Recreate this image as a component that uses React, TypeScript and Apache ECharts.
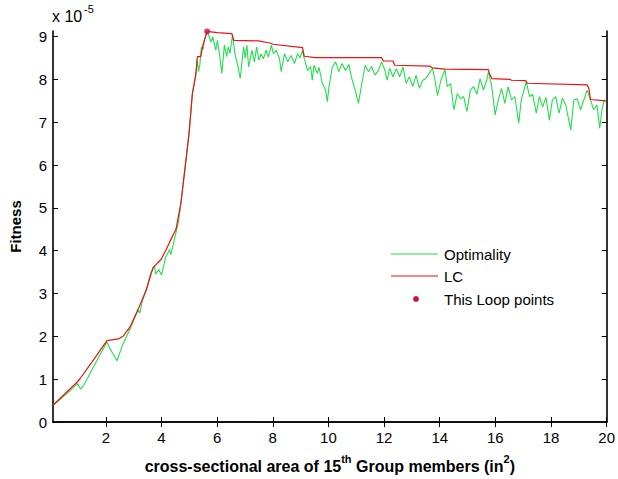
import React, { useEffect, useRef } from 'react';
import * as echarts from 'echarts';

const xTicks = [2, 4, 6, 8, 10, 12, 14, 16, 18, 20];
const yTicks = [0, 1, 2, 3, 4, 5, 6, 7, 8, 9];

const optX = [
  0.10, 0.40, 0.70, 0.98, 1.09, 1.20, 1.50, 1.80, 2.04, 2.20, 2.40, 2.60, 2.89, 3.16, 3.22, 3.30, 3.46, 3.60,
  3.75, 3.79, 3.90, 4.00, 4.15, 4.29, 4.34, 4.52, 4.62, 4.70, 4.85, 4.99, 5.11, 5.23, 5.29, 5.33, 5.38, 5.43,
  5.49, 5.55, 5.64, 5.72, 5.78, 5.84, 5.95, 6.01, 6.08, 6.17, 6.26, 6.34, 6.40, 6.46, 6.55, 6.64, 6.75, 6.83,
  6.95, 7.01, 7.07, 7.13, 7.25, 7.34, 7.42, 7.50, 7.58, 7.66, 7.76, 7.84, 7.95, 8.02, 8.12, 8.24, 8.30, 8.42,
  8.54, 8.66, 8.78, 8.89, 8.98, 9.07, 9.13, 9.25, 9.36, 9.42, 9.48, 9.60, 9.66, 9.78, 9.90, 9.96, 10.02, 10.14,
  10.26, 10.37, 10.49, 10.61, 10.73, 10.84, 10.96, 11.08, 11.20, 11.32, 11.44, 11.55, 11.67, 11.79, 11.91, 12.03,
  12.11, 12.20, 12.32, 12.44, 12.56, 12.68, 12.79, 12.91, 13.03, 13.15, 13.27, 13.39, 13.50, 13.62, 13.74, 13.83,
  13.92, 14.04, 14.19, 14.27, 14.39, 14.51, 14.63, 14.75, 14.86, 14.98, 15.10, 15.22, 15.34, 15.45, 15.57, 15.69,
  15.75, 15.87, 15.99, 16.10, 16.22, 16.34, 16.46, 16.58, 16.70, 16.84, 16.93, 17.11, 17.23, 17.34, 17.47, 17.58,
  17.70, 17.82, 17.94, 18.05, 18.17, 18.29, 18.41, 18.53, 18.71, 18.82, 18.94, 19.06, 19.18, 19.30, 19.42, 19.53,
  19.65, 19.75, 19.83, 19.91, 19.96,
];
const optY = [
  0.39, 0.55, 0.72, 0.90, 0.77, 0.85, 1.22, 1.58, 1.86, 1.65, 1.43, 1.80, 2.20, 2.62, 2.54, 2.80, 3.10, 3.45,
  3.64, 3.45, 3.56, 3.43, 3.85, 4.03, 3.91, 4.42, 4.70, 5.12, 5.95, 6.74, 7.67, 8.10, 8.45, 8.18, 8.35, 8.75,
  8.70, 8.95, 9.12, 8.99, 8.87, 8.99, 8.68, 8.91, 8.60, 8.14, 8.80, 8.53, 8.76, 8.60, 9.03, 8.60, 8.29, 8.02,
  8.76, 8.50, 8.80, 8.29, 8.68, 8.41, 8.76, 8.45, 8.60, 8.48, 8.68, 8.52, 8.80, 8.60, 8.68, 8.49, 8.18, 8.60,
  8.41, 8.56, 8.37, 8.60, 8.50, 8.68, 8.49, 8.21, 8.30, 7.98, 8.33, 8.14, 8.28, 7.91, 7.75, 7.48, 7.83, 8.29,
  8.41, 8.18, 8.37, 8.21, 8.35, 8.02, 7.75, 7.44, 7.91, 8.33, 8.18, 8.30, 8.10, 8.20, 8.41, 8.21,
  7.98, 8.26, 8.06, 8.25, 8.06, 8.29, 7.91, 8.06, 7.83, 8.10, 7.79, 7.98, 8.02, 8.14, 8.26, 7.98,
  7.62, 7.98, 8.23, 7.83, 7.90, 7.29, 7.67, 7.55, 7.60, 7.25, 7.75, 7.83, 7.65, 8.02, 7.75, 7.98,
  8.18, 7.83, 7.17, 7.50, 7.79, 7.44, 7.83, 7.52, 7.60, 6.98, 7.52, 7.94, 7.60, 7.65, 7.21, 7.60,
  7.36, 7.58, 7.05, 7.52, 7.60, 7.21, 7.56, 7.40, 6.82, 7.52, 7.55, 7.29, 7.52, 7.75, 7.52, 7.29,
  7.40, 6.86, 7.29, 7.52, 7.48,
];

const lcX = [
  0.10, 0.98, 1.07, 1.50, 2.04, 2.45, 2.63, 2.87, 3.16, 3.46, 3.69, 3.99, 4.17, 4.29, 4.52, 4.70, 4.99, 5.11,
  5.23, 5.29, 5.41, 5.49, 5.64, 6.00, 6.53, 6.60, 7.48, 7.89, 8.01, 9.07, 9.13, 9.54, 11.91, 11.97, 12.32, 12.38,
  13.62, 13.74, 14.19, 15.75, 15.78, 15.87, 16.52, 16.58, 17.09, 17.15, 19.30, 19.36, 19.42, 19.96,
];
const lcY = [
  0.39, 0.94, 1.01, 1.40, 1.90, 1.94, 2.01, 2.22, 2.63, 3.10, 3.60, 3.80, 4.03, 4.20, 4.50, 5.12, 6.74, 7.67,
  8.10, 8.53, 8.53, 8.80, 9.12, 9.09, 9.07, 8.91, 8.90, 8.85, 8.82, 8.74, 8.54, 8.51, 8.51, 8.43, 8.43, 8.33,
  8.31, 8.27, 8.24, 8.23, 8.15, 8.02, 8.00, 7.98, 7.97, 7.91, 7.87, 7.79, 7.53, 7.50,
];

const loopX = [5.64];
const loopY = [9.12];

const FONT = 'Liberation Sans, Arial, sans-serif';

export default function App() {
  const ref = useRef<HTMLDivElement>(null);
  useEffect(() => {
    const chart = echarts.init(ref.current!, null, { renderer: 'svg' });
    const zip = (xs: number[], ys: number[]) => xs.map((x, i) => [x, ys[i]]);
    const axisLine = { show: true, lineStyle: { color: '#000', width: 1.6 } };
    const tick = { show: true, inside: true, length: 5, lineStyle: { color: '#000', width: 1 } };
    const labelStyle = { color: '#000', fontSize: 15, fontFamily: FONT };
    chart.setOption({
      animation: false,
      backgroundColor: '#fff',
      grid: { left: 52, right: 5, top: 31, bottom: 55, containLabel: false },
      xAxis: [
        {
          type: 'value', position: 'bottom', min: 0.1, max: 20,
          axisLine, axisTick: { ...tick, customValues: xTicks },
          axisLabel: { ...labelStyle, margin: 8, customValues: xTicks },
          splitLine: { show: false },
          name: '{b|cross-sectional area of 15}{s|th}{b| Group members (in}{s|2}{b|)}',
          nameLocation: 'middle', nameGap: 31,
          nameTextStyle: {
            rich: {
              b: { fontSize: 16, fontWeight: 'bold', fontFamily: FONT, color: '#000', lineHeight: 21, verticalAlign: 'bottom' },
              s: { fontSize: 11, fontWeight: 'bold', fontFamily: FONT, color: '#000', lineHeight: 12, verticalAlign: 'top' },
            },
          },
        },
        {
          type: 'value', position: 'top', min: 0.1, max: 20,
          axisLine, axisTick: { ...tick, customValues: xTicks },
          axisLabel: { show: false }, splitLine: { show: false },
        },
      ],
      yAxis: [
        {
          type: 'value', position: 'left', min: 0, max: 9.13,
          axisLine, axisTick: { ...tick, customValues: yTicks },
          axisLabel: { ...labelStyle, margin: 6, customValues: yTicks },
          splitLine: { show: false },
          name: 'Fitness', nameLocation: 'middle', nameGap: 30, nameRotate: 90,
          nameTextStyle: { fontSize: 15, fontWeight: 'bold', fontFamily: FONT, color: '#000' },
        },
        {
          type: 'value', position: 'right', min: 0, max: 9.13,
          axisLine, axisTick: { ...tick, customValues: yTicks },
          axisLabel: { show: false }, splitLine: { show: false },
        },
      ],
      series: [
        {
          name: 'Optimality', type: 'line', data: zip(optX, optY), showSymbol: false, symbol: 'none',
          lineStyle: { color: '#22e04c', width: 1.1 }, z: 2,
        },
        {
          name: 'LC', type: 'line', data: zip(lcX, lcY), showSymbol: false, symbol: 'none',
          lineStyle: { color: '#ee1111', width: 1.2 }, z: 3,
        },
        {
          name: 'This Loop points', type: 'scatter', data: zip(loopX, loopY), symbol: 'circle', symbolSize: 6,
          itemStyle: { color: '#d0104a' }, clip: false, z: 4,
        },
      ],
      graphic: [
        { type: 'text', left: 52, top: 8, style: { text: 'x 10', fontSize: 16, fontFamily: FONT, fill: '#000' } },
        { type: 'text', left: 84, top: 3, style: { text: '-5', fontSize: 11, fontFamily: FONT, fill: '#000' } },
        { type: 'line', shape: { x1: 391, y1: 254, x2: 438, y2: 254 }, style: { stroke: '#22e04c', lineWidth: 1.2 } },
        { type: 'line', shape: { x1: 391, y1: 276, x2: 438, y2: 276 }, style: { stroke: '#ee1111', lineWidth: 1.2 } },
        { type: 'circle', shape: { cx: 416, cy: 299, r: 3 }, style: { fill: '#d0104a' } },
        { type: 'text', x: 444, y: 254, style: { text: 'Optimality', fontSize: 15, fontFamily: FONT, fill: '#000', verticalAlign: 'middle' } },
        { type: 'text', x: 444, y: 276, style: { text: 'LC', fontSize: 15, fontFamily: FONT, fill: '#000', verticalAlign: 'middle' } },
        { type: 'text', x: 444, y: 299, style: { text: 'This Loop points', fontSize: 15, fontFamily: FONT, fill: '#000', verticalAlign: 'middle' } },
      ],
    });
    return () => chart.dispose();
  }, []);
  return <div ref={ref} style={{ position: 'absolute', left: 0, top: 0, width: 618, height: 479, background: '#fff' }} />;
}
